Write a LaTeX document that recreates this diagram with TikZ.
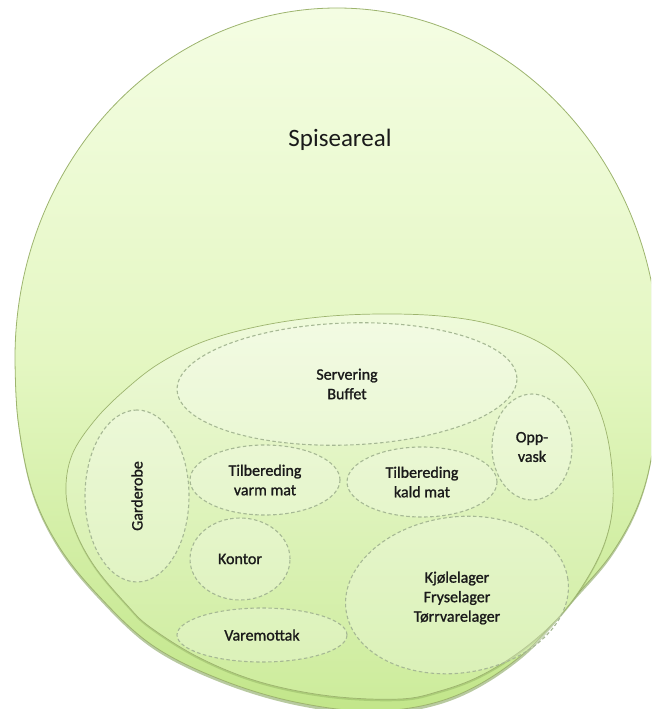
\documentclass[tikz,border=0pt]{standalone}
\usepackage{fontspec}
\setmainfont{Carlito}
\newfontfamily\labelfont[FakeBold=1.2]{Carlito}
\usetikzlibrary{shapes.geometric}

\definecolor{rimgreen}{HTML}{9DB46E}
\definecolor{dashgreen}{HTML}{A6B894}
\definecolor{paletop}{HTML}{F4FDE3}
\definecolor{palemid}{HTML}{E4F7C2}
\definecolor{palebot}{HTML}{C2E68A}
\definecolor{innertop}{HTML}{EFFADB}
\definecolor{innerbot}{HTML}{CDEC9C}
\definecolor{labelink}{HTML}{1A1A1A}
\definecolor{shadowgreen}{HTML}{7E9E52}

\begin{document}
\begin{tikzpicture}[x=1pt, y=-1pt,
  zone/.style={ellipse, draw=dashgreen, dash pattern=on 3.5pt off 2.5pt,
    line width=1.1pt, fill=white, fill opacity=0.25, text opacity=1,
    text=labelink, align=center, inner sep=0pt,
    font=\labelfont\fontsize{16}{19.5}\selectfont},
  zonetext/.style={text=labelink, align=center, inner sep=0pt,
    font=\labelfont\fontsize{16}{19.5}\selectfont},
  rim/.style={draw=rimgreen, line width=0.8pt},
]
\useasboundingbox (0,0) rectangle (651,709);
\clip (0,0) rectangle (651,709);

% dining area: elliptic top, lower rim hugging the kitchen block
\def\diningoutline{(659,358) arc[start angle=0, end angle=180,
    x radius=322pt, y radius=350pt]
  -- plot[smooth, tension=0.6] coordinates {
  (15,358) (18,420) (32,490) (58,545) (97,594) (152,645) (222,680)
  (300,703) (380,711) (455,696) (522,655) (572,600) (612,553) (640,500)
  (654,440) (659,358)} -- cycle}
\fill[shadowgreen, opacity=0.55, yshift=-3pt] \diningoutline;
\shade[rim, top color=paletop, bottom color=palebot, middle color=palemid] \diningoutline;
\node[font=\fontsize{25}{30}\selectfont, text=labelink] (spise) at (340,140) {Spiseareal};

% kitchen block
\def\kitchenoutline{plot[smooth cycle, tension=0.6] coordinates {
  (66,493) (72,455) (95,420) (125,390) (160,363) (205,341) (260,326)
  (320,317) (380,314) (440,316) (490,324) (535,340) (570,365) (595,400)
  (609,445) (613,500) (605,542) (585,582) (558,618) (522,650) (480,676)
  (440,691) (400,699) (330,696) (260,682) (200,658) (150,627) (127,605)
  (95,567) (75,530)}}
\fill[shadowgreen, opacity=0.35, yshift=-2pt] \kitchenoutline;
\shade[rim, line width=0.7pt, top color=innertop, bottom color=innerbot] \kitchenoutline;

% rooms
\node[zone, rotate=2, minimum width=340pt, minimum height=122pt] (serv) at (347,384) {};
\node[zonetext] at (serv.center) {Servering\\Buffet};
\node[zone, rotate=90, minimum width=172pt, minimum height=104pt] (gard) at (137,496) {Garderobe};
\node[zone, minimum width=150pt, minimum height=70pt] (varm) at (265,480) {Tilbereding\\varm mat};
\node[zone, minimum width=150pt, minimum height=70pt] (kald) at (422,482) {Tilbereding\\kald mat};
\node[zone, minimum width=80pt, minimum height=106pt] (opp) at (532,447) {Opp-\\vask};
\node[zone, minimum width=100pt, minimum height=82pt] (kontor) at (240,559) {Kontor};
\node[zone, minimum width=170pt, minimum height=54pt] (vare) at (262,635) {Varemottak};
\node[zone, rotate=8, minimum width=224pt, minimum height=156pt] (lager) at (457,595) {};
\node[zonetext] at (457,598) {Kjølelager\\Fryselager\\Tørrvarelager};
\end{tikzpicture}
\end{document}
